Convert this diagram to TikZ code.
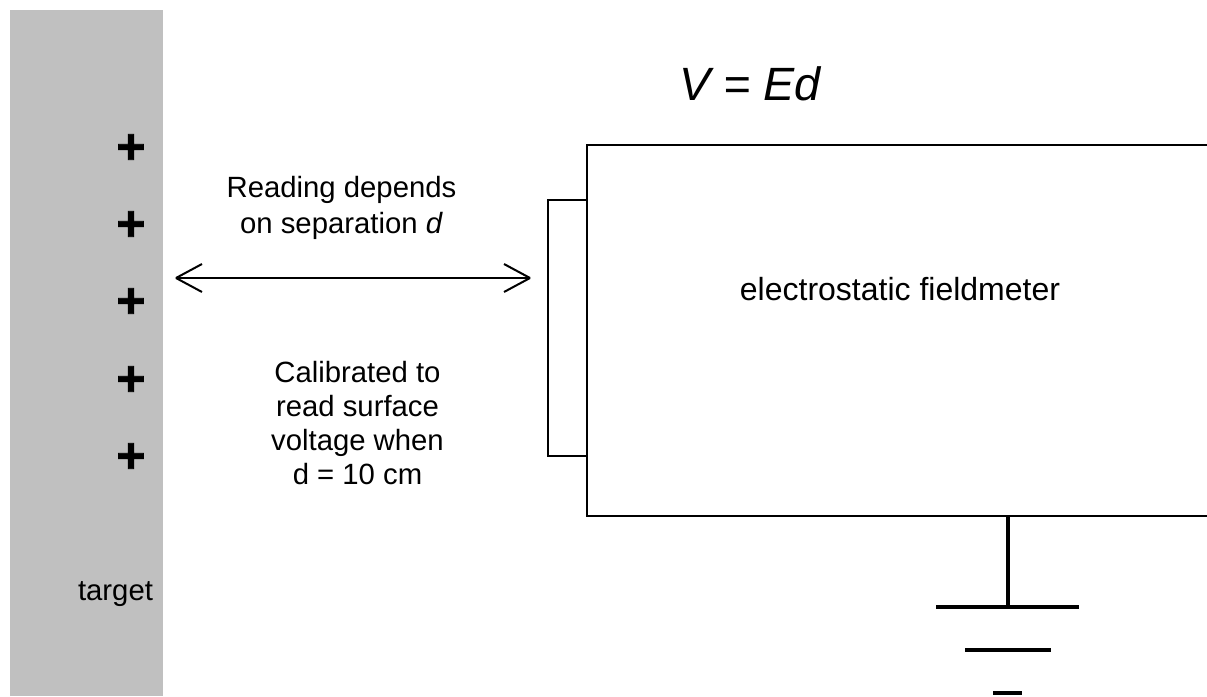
\documentclass[tikz,border=0pt]{standalone}
\usepackage{fontspec}
\setmainfont{Liberation Sans}
\newfontfamily\plusfont[FakeBold=1.6]{Liberation Sans Bold}
\tikzset{
  x=1pt,y=-1pt,
  lbl/.style={inner sep=0pt,align=center,font=\fontsize{29.3}{33.7}\selectfont},
  plus/.style={inner sep=0pt,font=\fontsize{50}{50}\selectfont\plusfont},
  wire/.style={draw=black,line width=2.7pt},
  gnd/.style={draw=black,line width=4pt},
}
\begin{document}
\begin{tikzpicture}
\useasboundingbox (0,0) rectangle (1207,696);
\fill[white] (0,0) rectangle (1207,696);
\path[clip] (0,0) rectangle (1207,696);
\node[fill={rgb,255:red,192;green,192;blue,192},inner sep=0pt,minimum width=153pt,minimum height=686pt,anchor=north west] (target) at (10,10) {};
\foreach \n/\y in {1/149,2/226,3/303,4/381,5/458}
  \node[plus] (plus\n) at (131,\y) {+};
\node[lbl] (tlabel) at (115.5,594) {target};
\node[lbl,font=\fontsize{46.7}{50}\selectfont\itshape] (formula) at (750,84) {V = Ed};
\node[lbl,font=\fontsize{29.3}{36}\selectfont] (reading) at (341.5,207.5) {Reading depends\\on separation \textit{d}};
\node[lbl] (calib) at (357.5,423) {Calibrated to\\read surface\\voltage when\\d = 10 cm};
\node[lbl,font=\fontsize{32}{36}\selectfont] (meter) at (900,289) {electrostatic fieldmeter};
\coordinate (boxtl) at (587,145);
\coordinate (boxtr) at (1210,145);
\coordinate (boxbl) at (587,516);
\coordinate (boxbr) at (1210,516);
\draw[wire] (boxtr) -- (boxtl) -- (boxbl) -- (boxbr);
\coordinate (probetr) at (587,200);
\coordinate (probetl) at (548,200);
\coordinate (probebl) at (548,456);
\coordinate (probebr) at (587,456);
\draw[wire] (probetr) -- (probetl) -- (probebl) -- (probebr);
\coordinate (arrowL) at (176,278);
\coordinate (arrowR) at (530,278);
\draw[line width=2pt] (arrowL) -- (arrowR);
\draw[line width=2pt,miter limit=2] (202,264) -- (arrowL) -- (202,292);
\draw[line width=2pt,miter limit=2] (504,264) -- (arrowR) -- (504,292);
\coordinate (g0) at (1008,516);
\coordinate (g1) at (1008,607);
\draw[wire,line width=3.5pt] (g0) -- (g1);
\draw[gnd] (936,607) -- (1079,607);
\draw[gnd] (965,650) -- (1051,650);
\draw[gnd] (993,693) -- (1022,693);
\end{tikzpicture}
\end{document}
